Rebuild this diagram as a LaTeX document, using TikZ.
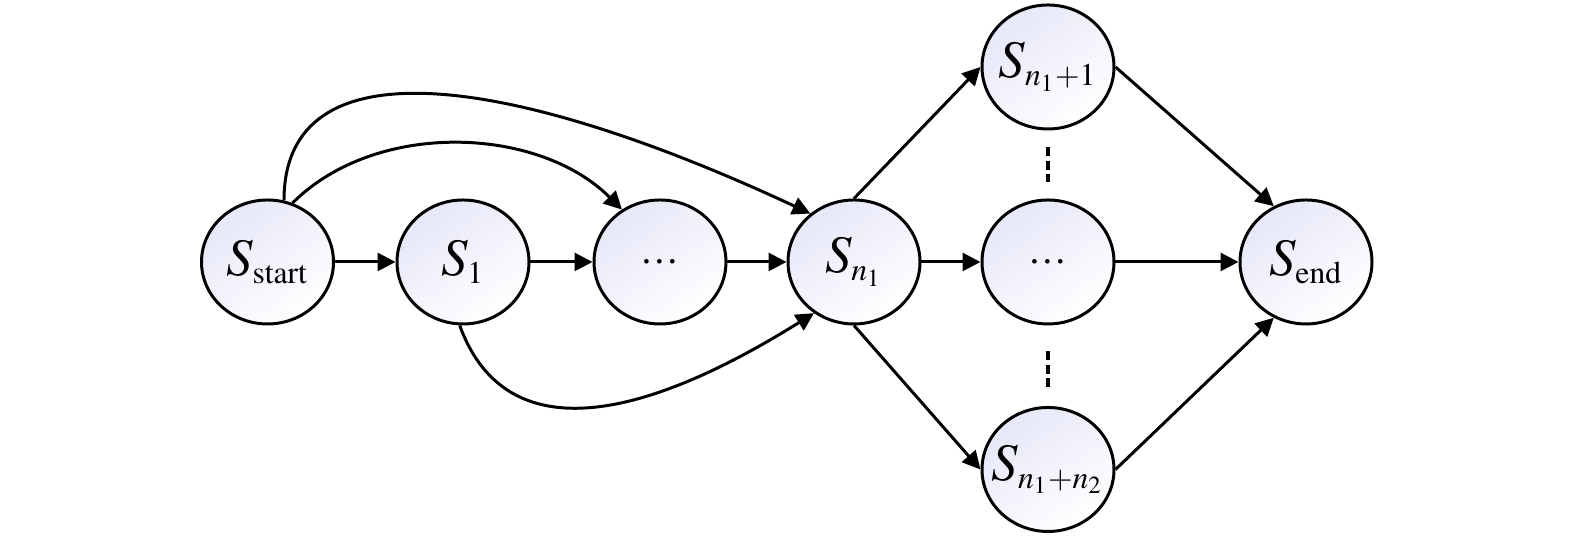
\documentclass[tikz,border=0pt]{standalone}
\usepackage{mathptmx}
\usepackage{fontspec}
\setmainfont{Liberation Serif}
\usetikzlibrary{positioning, shapes.geometric, arrows.meta}
\DeclareMathSizes{15}{15}{9}{7}
\definecolor{lav}{RGB}{230,231,248}

\begin{document}
\begin{tikzpicture}[
		state/.style={draw, ellipse, line width=0.85pt, minimum width=1.32cm, minimum height=1.24cm, inner xsep=-1.2mm, inner ysep=0pt, left color=lav, right color=white, shading angle=35, font=\fontsize{15}{18}\selectfont},
		go/.style={line width=0.85pt, -{Triangle[length=1.8mm, width=1.8mm]}},
		gap/.style={line width=1pt, dash pattern=on 0.9mm off 0.45mm}
		]
		\useasboundingbox (0,0) rectangle (15.75,5.38);
		\node[state] (Sst) at (2.675,2.76) {$S_{\mathrm{start}}$};
		\node[state] (S1) at (4.63,2.76) {$S_1$};
		\node[state] (Sdots) at (6.60,2.76) {\fontsize{11}{12}\selectfont\ldots};
		\node[state] (Sn) at (8.54,2.76) {$S_{n_1}$};
		\node[state] (Smid) at (10.48,2.76) {\fontsize{11}{12}\selectfont\ldots};
		\node[state] (Stop) at (10.48,4.71) {$S_{n_1+1}$};
		\node[state] (Sbot) at (10.48,0.685) {$S_{n_1+n_2}$};
		\node[state] (Send) at (13.06,2.76) {$S_{\mathrm{end}}$};

		\draw[go] (Sst) -- (S1);
		\draw[go] (S1) -- (Sdots);
		\draw[go] (Sdots) -- (Sn);
		\draw[go] (Sn) -- (Smid);
		\draw[go] (Smid) -- (Send);
		\draw[go] (Sn.north) -- (Stop.west);
		\draw[go] (Sn.south) -- (Sbot.west);
		\draw[go] (Stop.east) -- (Send.120);
		\draw[go] (Sbot.east) -- (Send.240);

		% skip arcs
		\draw[go] (Sst.75) .. controls +(90:1.6) and +(155:3.3) .. (Sn.132);
		\draw[go] (Sst.67) .. controls +(45:1.18) and +(135:1.18) .. (Sdots.126);
		\draw[go] (S1.267) .. controls +(-70:1.25) and +(212:2.2) .. (Sn.232);

		\draw[gap, shorten <=1.7mm, shorten >=1.6mm] (Stop) -- (Smid);
		\draw[gap, shorten <=2.6mm, shorten >=1.9mm] (Smid) -- (Sbot);
	\end{tikzpicture}
\end{document}
